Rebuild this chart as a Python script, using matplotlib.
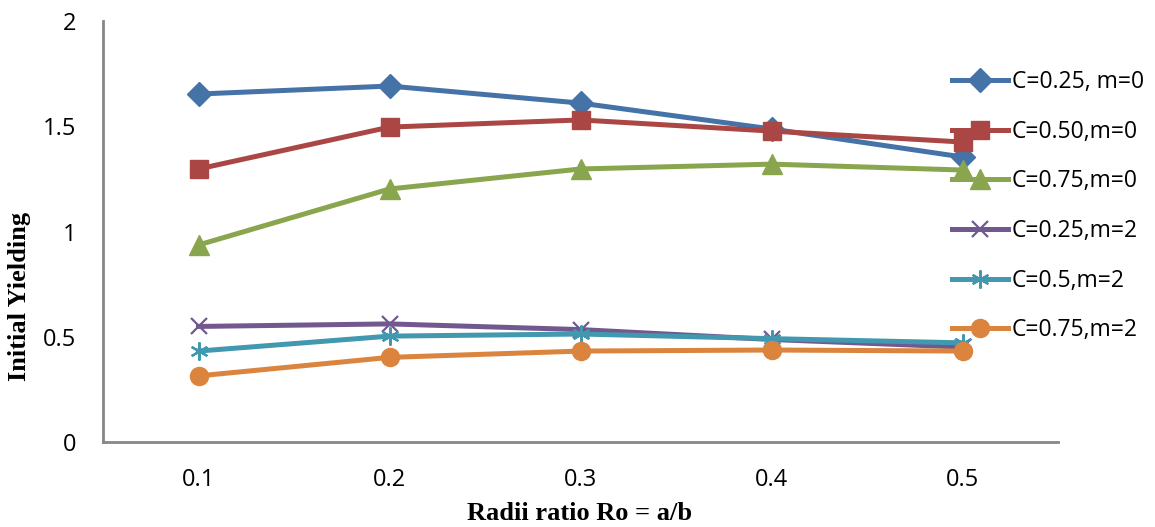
import matplotlib
matplotlib.use("Agg")
import matplotlib.pyplot as plt

categories = ["0.1", "0.2", "0.3", "0.4", "0.5"]
labels = ["C=0.25, m=0", "C=0.50,m=0", "C=0.75,m=0", "C=0.25,m=2", "C=0.5,m=2", "C=0.75,m=2"]
c025_m0 = [1.653, 1.691, 1.610, 1.487, 1.354]
c050_m0 = [1.297, 1.496, 1.530, 1.477, 1.425]
c075_m0 = [0.936, 1.202, 1.297, 1.320, 1.292]
c025_m2 = [0.549, 0.561, 0.534, 0.487, 0.451]
c05_m2 = [0.432, 0.503, 0.513, 0.491, 0.471]
c075_m2 = [0.314, 0.402, 0.432, 0.437, 0.432]
series = [c025_m0, c050_m0, c075_m0, c025_m2, c05_m2, c075_m2]

colors = ["#4572A7", "#AA4643", "#89A54E", "#71588F", "#4198AF", "#DB843D"]
markers = ["D", "s", "^", "x", (6, 2, 0), "o"]
msizes = [12, 13, 14, 12, 13, 13]

fig = plt.figure(figsize=(11.55, 5.27), dpi=100)
ax = fig.add_axes([103/1155, 1-442/527, (1058-103)/1155, (442-21)/527])

x = list(range(len(categories)))
for vals, lab, col, mk, ms in zip(series, labels, colors, markers, msizes):
    lined = mk in ("x", (6, 2, 0))
    ax.plot(x, vals, color=col, lw=3.6, marker=mk, ms=ms, label=lab,
            markeredgewidth=1.6 if lined else 1.0,
            markeredgecolor=col, markerfacecolor=col, clip_on=False)

ax.set_xlim(-0.5, 4.5)
ax.set_ylim(0, 2)
ax.set_xticks(x)
ax.set_xticklabels(categories)
ax.set_yticks([0, 0.5, 1, 1.5, 2])
ax.set_yticklabels(["0", "0.5", "1", "1.5", "2"])
for s in ["top", "right"]:
    ax.spines[s].set_visible(False)
for s in ["left", "bottom"]:
    ax.spines[s].set_color("#868686")
    ax.spines[s].set_linewidth(2)
ax.tick_params(axis="both", length=0, labelsize=17)
ax.tick_params(axis="x", pad=19)
ax.tick_params(axis="y", pad=19)
for t in ax.get_xticklabels() + ax.get_yticklabels():
    t.set_fontfamily("Open Sans")

fig.text(20/1155, 231/527, "Initial Yielding", rotation=90, ha="center", va="center",
         fontsize=19, fontweight="bold", family="Liberation Serif")
fig.text(580/1155, 1-513/527, "Radii ratio Ro = a/b", ha="center", va="center",
         fontsize=19, fontweight="bold", family="Liberation Serif")

leg = ax.legend(loc="upper left", bbox_to_anchor=(952/1155, 1-70/527), bbox_transform=fig.transFigure,
                frameon=False, prop={"family": "Open Sans", "size": 16.5},
                handlelength=2.45, handletextpad=0.15, labelspacing=1.12, borderaxespad=0, borderpad=0)

fig.savefig("out.png", dpi=100)
